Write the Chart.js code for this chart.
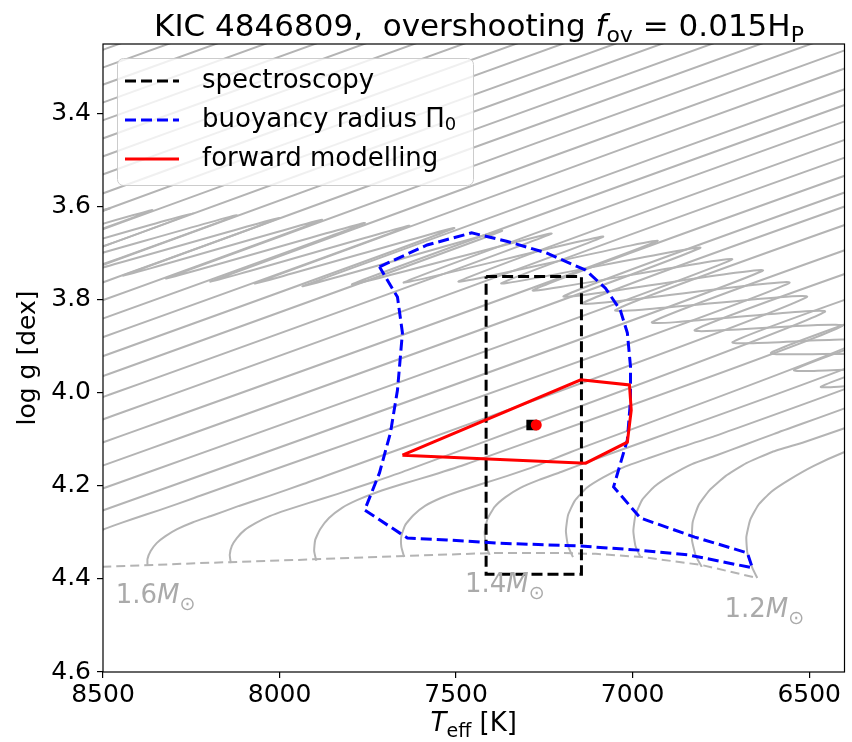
<!DOCTYPE html>
<html>
<head>
<meta charset="utf-8">
<script src="https://cdn.jsdelivr.net/npm/chart.js@4.4.0/dist/chart.umd.min.js"></script>
<style>
  html, body { margin: 0; padding: 0; background: #fff; overflow: hidden; }
  canvas { display: block; }
</style>
</head>
<body>
<canvas id="kiel" width="852" height="742"></canvas>
<script>
// axis ticks
const xTicks = [8500, 8000, 7500, 7000, 6500];
const yTicks = [3.4, 3.6, 3.8, 4.0, 4.2, 4.4, 4.6];

// evolutionary tracks (Teff in K, log g in dex), one row per mass
const masses = [1.20, 1.25, 1.30, 1.35, 1.40, 1.45, 1.50, 1.55, 1.60, 1.65, 1.70, 1.75,
  1.80, 1.85, 1.90, 1.95, 2.00, 2.05, 2.10, 2.15, 2.20, 2.25, 2.30, 2.35, 2.40, 2.45,
  2.50, 2.55, 2.60, 2.65, 2.70, 2.75, 2.80, 2.85];
const trackTeff = [
  [6647, 6661, 6675, 6678, 6667, 6644, 6608, 6557, 6487, 6400, 6122],
  [6804, 6821, 6832, 6830, 6813, 6782, 6737, 6678, 6605, 6515, 6400, 6122],
  [6978, 6992, 6998, 6992, 6973, 6939, 6891, 6832, 6762, 6684, 6599, 6209, 6467, 5982],
  [7169, 7183, 7189, 7183, 7164, 7130, 7082, 7023, 6953, 6869, 6768, 6260, 6543, 5982],
  [7405, 7416, 7419, 7411, 7391, 7360, 7318, 7265, 7203, 7119, 6307, 6608, 5982],
  [7647, 7655, 7655, 7644, 7621, 7588, 7543, 7489, 7428, 7357, 7273, 7175, 6355, 6717, 5982],
  [7896, 7902, 7899, 7885, 7860, 7823, 7779, 7722, 7652, 7568, 7470, 6406, 6824, 5982],
  [8138, 8141, 8135, 8121, 8099, 8068, 8028, 7981, 7919, 7835, 7736, 7638, 6456, 6945, 5982],
  [8374, 8374, 8365, 8348, 8323, 8290, 8245, 8188, 8115, 8031, 7933, 6507, 7049, 5982],
  [8615, 8612, 8601, 8581, 8553, 8517, 8472, 8416, 8340, 8242, 6557, 7141, 5982],
  [8789, 6633, 7195, 5982],
  [8789, 6720, 7282, 5982],
  [8789, 6810, 7371, 5982],
  [8789, 6931, 7492, 5982],
  [8789, 7085, 7647, 5982],
  [8789, 7231, 7793, 5982],
  [8789, 7371, 7933, 5982],
  [8789, 7506, 8068, 5982],
  [8789, 7633, 8194, 6262],
  [8789, 7759, 8320, 6262],
  [8789, 7880, 8441, 6543],
  [8789, 8000, 8562, 6543],
  [8789, 8121, 8683, 6824],
  [8789, 8242, 8803, 6824],
  [8789, 8360, 8921, 7105],
  [8789, 8480, 9042, 7105],
  [8601, 9163, 7385],
  [8722, 9283, 7385],
  [8843, 9404, 7666],
  [8963, 9525, 7666],
  [9084, 9646, 7947],
  [9202, 9763, 7947],
  [9323, 9884, 8228],
  [9443, 10005, 8228]
];
const trackLogg = [
  [4.398, 4.376, 4.344, 4.310, 4.273, 4.241, 4.213, 4.187, 4.157, 4.127, 4.045],
  [4.374, 4.351, 4.316, 4.278, 4.241, 4.209, 4.179, 4.151, 4.127, 4.106, 4.076, 3.998],
  [4.353, 4.329, 4.297, 4.263, 4.230, 4.202, 4.177, 4.153, 4.134, 4.112, 4.088, 3.977, 3.987, 3.854],
  [4.353, 4.329, 4.297, 4.263, 4.232, 4.204, 4.181, 4.159, 4.140, 4.118, 4.093, 3.949, 3.951, 3.796],
  [4.348, 4.327, 4.299, 4.271, 4.245, 4.224, 4.204, 4.187, 4.170, 4.146, 3.919, 3.914, 3.742],
  [4.353, 4.331, 4.308, 4.284, 4.263, 4.243, 4.226, 4.211, 4.196, 4.179, 4.157, 4.127, 3.888, 3.891, 3.689],
  [4.361, 4.340, 4.316, 4.293, 4.269, 4.247, 4.230, 4.213, 4.196, 4.177, 4.153, 3.856, 3.865, 3.633],
  [4.366, 4.348, 4.329, 4.312, 4.295, 4.280, 4.265, 4.252, 4.237, 4.217, 4.192, 4.166, 3.826, 3.848, 3.581],
  [4.372, 4.357, 4.340, 4.323, 4.308, 4.293, 4.278, 4.263, 4.243, 4.222, 4.196, 3.794, 3.822, 3.527],
  [4.376, 4.359, 4.342, 4.327, 4.312, 4.299, 4.286, 4.271, 4.252, 4.226, 3.764, 3.807, 3.487],
  [4.331, 3.738, 3.792, 3.456],
  [4.284, 3.714, 3.779, 3.420],
  [4.235, 3.689, 3.764, 3.381],
  [4.185, 3.674, 3.760, 3.342],
  [4.136, 3.665, 3.762, 3.302],
  [4.088, 3.658, 3.766, 3.267],
  [4.043, 3.652, 3.770, 3.233],
  [4.000, 3.646, 3.764, 3.188],
  [3.959, 3.641, 3.760, 3.226],
  [3.919, 3.635, 3.753, 3.186],
  [3.880, 3.628, 3.747, 3.224],
  [3.841, 3.624, 3.742, 3.186],
  [3.802, 3.618, 3.736, 3.224],
  [3.764, 3.613, 3.732, 3.188],
  [3.725, 3.607, 3.725, 3.224],
  [3.686, 3.603, 3.721, 3.188],
  [3.596, 3.714, 3.224],
  [3.590, 3.708, 3.186],
  [3.585, 3.704, 3.224],
  [3.579, 3.697, 3.186],
  [3.575, 3.693, 3.224],
  [3.568, 3.686, 3.186],
  [3.564, 3.682, 3.226],
  [3.557, 3.676, 3.188]
];

// zero-age main sequence
const zamsTeff = [8621, 8500, 8228, 7947, 7666, 7385, 7217, 7105, 6973, 6804, 6647];
const zamsLogg = [4.376, 4.374, 4.366, 4.359, 4.351, 4.344, 4.344, 4.346, 4.353, 4.370, 4.398];

// spectroscopic box
const specTeff = [7415, 7145, 7145, 7415, 7415];
const specLogg = [3.75, 3.75, 4.39, 4.39, 3.75];

// buoyancy radius contour
const buoyTeff = [7717, 7582, 7456, 7357, 7245, 7133, 7077, 7035, 7015, 7006, 7006, 7015, 7054, 6978,
  6824, 6675, 6661, 6844, 6984, 7152, 7385, 7526, 7638, 7759, 7717, 7686, 7666, 7652, 7666, 7717];
const buoyLogg = [3.729, 3.682, 3.656, 3.674, 3.699, 3.736, 3.775, 3.822, 3.871, 3.944, 4.015, 4.101, 4.202, 4.269,
  4.310, 4.344, 4.376, 4.348, 4.338, 4.329, 4.323, 4.316, 4.312, 4.252, 4.172, 4.086, 3.994, 3.871, 3.794, 3.729];

// forward modelling contour
const fwdTeff = [7652, 7147, 7009, 7004, 7015, 7133, 7652];
const fwdLogg = [4.134, 3.972, 3.983, 4.037, 4.106, 4.151, 4.134];

// observed star and best model
const obsTeff = [7286];
const obsLogg = [4.069];
const bestTeff = [7273];
const bestLogg = [4.069];

// mass labels near the ZAMS
const massLabels = ['1.6', '1.4', '1.2'];
const massLabelTeff = [8464, 7475, 6740];
const massLabelLogg = [4.452, 4.428, 4.482];

const FF = '"DejaVu Sans"';
const pts = (xs, ys) => xs.map((v, i) => ({ x: v, y: ys[i] }));

const datasets = [];
datasets.push({ label: 'best', data: pts(bestTeff, bestLogg), showLine: false, pointRadius: 5.5,
  pointBackgroundColor: '#ff0000', pointBorderWidth: 0, order: 1 });
datasets.push({ label: 'obs', data: pts(obsTeff, obsLogg), showLine: false, pointStyle: 'rect', pointRadius: 7.5,
  pointBackgroundColor: '#000000', pointBorderWidth: 0, order: 2 });
datasets.push({ label: 'forward modelling', data: pts(fwdTeff, fwdLogg), showLine: true, pointRadius: 0,
  borderColor: '#ff0000', borderWidth: 3, tension: 0, order: 3 });
datasets.push({ label: 'buoyancy radius', data: pts(buoyTeff, buoyLogg), showLine: true, pointRadius: 0,
  borderColor: '#0000ff', borderWidth: 3, borderDash: [11, 5], tension: 0, order: 4 });
datasets.push({ label: 'spectroscopy', data: pts(specTeff, specLogg), showLine: true, pointRadius: 0,
  borderColor: '#000000', borderWidth: 3, borderDash: [11, 5], tension: 0, order: 5 });
datasets.push({ label: 'ZAMS', data: pts(zamsTeff, zamsLogg), showLine: true, pointRadius: 0,
  borderColor: '#b4b4b4', borderWidth: 2, borderDash: [9, 5], tension: 0, order: 9 });
masses.forEach((m, i) => {
  datasets.push({ label: m.toFixed(2), data: pts(trackTeff[i], trackLogg[i]), showLine: true, pointRadius: 0,
    borderColor: '#b4b4b4', borderWidth: 2, tension: 0.15, order: 10 });
});

function drawRun(ctx, parts, x, y, align) {
  let w = 0;
  parts.forEach(p => { ctx.font = p.font; w += ctx.measureText(p.t).width; });
  let cx = align === 'center' ? x - w / 2 : x;
  parts.forEach(p => {
    ctx.font = p.font;
    ctx.fillText(p.t, cx, y + (p.dy || 0));
    cx += ctx.measureText(p.t).width;
  });
}

const legendItems = [
  { text: [{ t: 'spectroscopy', font: '26px ' + FF }], color: '#000000', dash: [11, 5] },
  { text: [{ t: 'buoyancy radius \u03A0', font: '26px ' + FF }, { t: '0', font: '18px ' + FF, dy: 5 }], color: '#0000ff', dash: [11, 5] },
  { text: [{ t: 'forward modelling', font: '26px ' + FF }], color: '#ff0000', dash: [] }
];

const decor = {
  id: 'decor',
  afterDatasetsDraw(chart) {
    const { ctx, chartArea: a, scales: { x, y } } = chart;
    ctx.save();
    // mass labels
    ctx.fillStyle = '#aaaaaa';
    ctx.textBaseline = 'alphabetic';
    massLabels.forEach((lab, i) => {
      drawRun(ctx, [
        { t: lab, font: '26px ' + FF },
        { t: 'M', font: 'italic 26px ' + FF },
        { t: '\u2299', font: '19px ' + FF, dy: 7 }
      ], x.getPixelForValue(massLabelTeff[i]), y.getPixelForValue(massLabelLogg[i]), 'left');
    });

    // legend box
    ctx.beginPath();
    ctx.roundRect(117.5, 58.5, 356, 127, 6);
    ctx.fillStyle = 'rgba(255,255,255,0.8)';
    ctx.fill();
    ctx.strokeStyle = '#cccccc';
    ctx.lineWidth = 1;
    ctx.stroke();
    legendItems.forEach((it, i) => {
      const ly = 81 + i * 39;
      ctx.beginPath();
      ctx.setLineDash(it.dash);
      ctx.strokeStyle = it.color;
      ctx.lineWidth = 3;
      ctx.moveTo(125, ly);
      ctx.lineTo(179, ly);
      ctx.stroke();
      ctx.setLineDash([]);
      ctx.fillStyle = '#000';
      ctx.textBaseline = 'middle';
      drawRun(ctx, it.text, 202, ly, 'left');
    });

    // frame
    ctx.strokeStyle = '#000';
    ctx.lineWidth = 1.2;
    ctx.strokeRect(a.left, a.top, a.right - a.left, a.bottom - a.top);
    ctx.restore();
  },
  afterDraw(chart) {
    const { ctx, chartArea: a } = chart;
    ctx.save();
    ctx.fillStyle = '#000';
    ctx.textBaseline = 'alphabetic';
    drawRun(ctx, [
      { t: 'KIC 4846809,  overshooting ', font: '31px ' + FF },
      { t: 'f', font: 'italic 31px ' + FF },
      { t: 'ov', font: '22px ' + FF, dy: 6 },
      { t: ' = 0.015H', font: '31px ' + FF },
      { t: 'P', font: '22px ' + FF, dy: 6 }
    ], 479, 36, 'center');

    drawRun(ctx, [
      { t: 'T', font: 'italic 26px ' + FF },
      { t: 'eff', font: '19px ' + FF, dy: 6 },
      { t: ' [K]', font: '26px ' + FF }
    ], (a.left + a.right) / 2, 731, 'center');

    ctx.translate(28, (a.top + a.bottom) / 2);
    ctx.rotate(-Math.PI / 2);
    ctx.textAlign = 'center';
    ctx.textBaseline = 'middle';
    ctx.font = '25px ' + FF;
    ctx.fillText('log g [dex]', 0, 0);
    ctx.restore();
  }
};

Chart.defaults.font.family = FF;

new Chart(document.getElementById('kiel'), {
  type: 'scatter',
  data: { datasets },
  options: {
    responsive: false,
    animation: false,
    events: [],
    layout: { padding: { top: 44, right: 1, left: 0, bottom: 0 } },
    plugins: { legend: { display: false }, tooltip: { enabled: false }, title: { display: false } },
    scales: {
      x: {
        type: 'linear', reverse: true, min: 6400, max: 8500,
        afterBuildTicks: s => { s.ticks = xTicks.map(v => ({ value: v })); },
        afterFit: s => { s.height = 70; s.paddingLeft = 0; s.paddingRight = 0; },
        grid: { drawOnChartArea: false, tickLength: 6, color: '#000', lineWidth: 1.2 },
        border: { display: false },
        ticks: { font: { size: 25 }, color: '#000', padding: 2, maxRotation: 0, autoSkip: false,
          callback: v => String(v) }
      },
      y: {
        type: 'linear', reverse: true, min: 3.25, max: 4.6,
        afterBuildTicks: s => { s.ticks = yTicks.map(v => ({ value: v })); },
        afterFit: s => { s.width = 103; s.paddingTop = 0; s.paddingBottom = 0; },
        grid: { drawOnChartArea: false, tickLength: 6, color: '#000', lineWidth: 1.2 },
        border: { display: false },
        ticks: { font: { size: 25 }, color: '#000', padding: 6, autoSkip: false,
          callback: v => Number(v).toFixed(1) }
      }
    }
  },
  plugins: [decor]
});
</script>
</body>
</html>
